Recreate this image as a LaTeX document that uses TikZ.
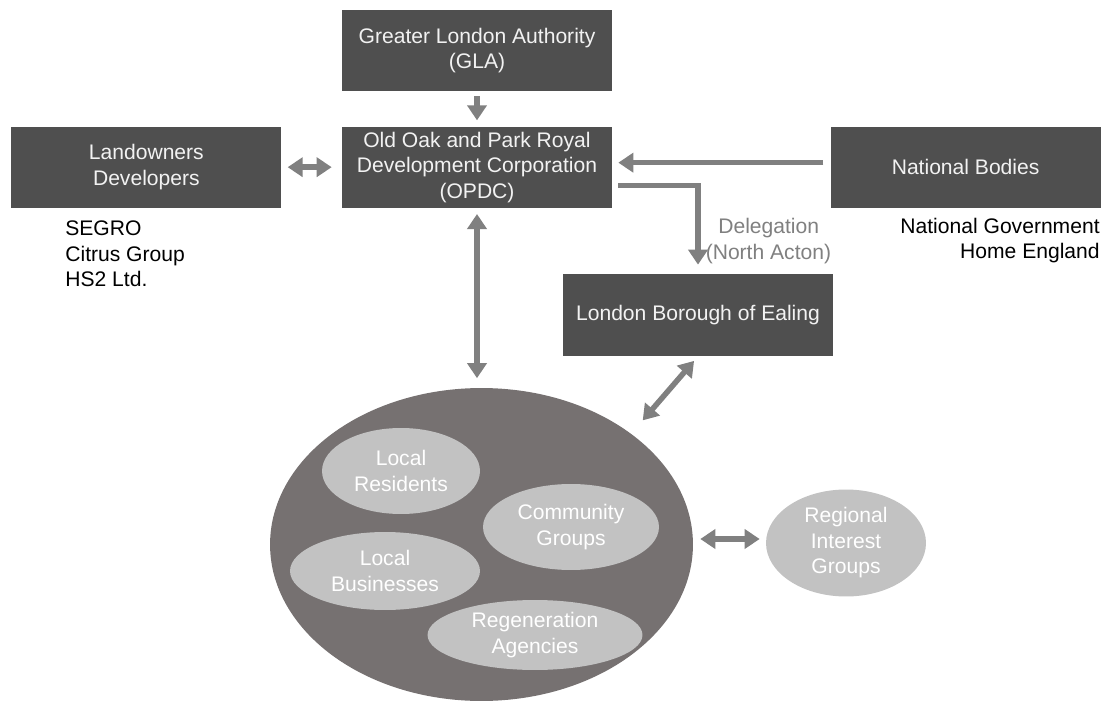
\documentclass[tikz,border=0pt]{standalone}
\usepackage{fontspec}
\setmainfont{Liberation Sans}
\usepackage{xcolor}
\usetikzlibrary{shapes.geometric, arrows.meta, positioning, calc}

\definecolor{bodygray}{HTML}{4F4F4F}
\definecolor{bodytext}{HTML}{F2F2F2}
\definecolor{arrowgray}{HTML}{808080}
\definecolor{localgray}{HTML}{767171}
\definecolor{groupgray}{HTML}{C2C2C2}
\newcommand{\diagfont}{\fontsize{12}{14.5}\selectfont}

\begin{document}
\begin{tikzpicture}[
    x=0.02cm, y=-0.02cm,
    font=\diagfont,
    body/.style={rectangle, fill=bodygray, text=bodytext, minimum width=5.4cm, minimum height=1.62cm, inner sep=2pt, align=center},
    group/.style={ellipse, fill=groupgray, text=white, inner sep=0pt, align=center},
    arrow/.style={-{Triangle[length=0.3cm, width=0.38cm]}, line width=0.11cm, draw=arrowgray},
    darrow/.style={{Triangle[length=0.3cm, width=0.38cm]}-{Triangle[length=0.3cm, width=0.38cm]}, line width=0.11cm, draw=arrowgray},
    members/.style={text=black, inner sep=0pt},
    lbl/.style={text=arrowgray, inner sep=0pt, align=right}
]
\useasboundingbox (0,0) rectangle (1112,702);

% Row 1: authorities and partners
\node[body] (gla) at (477,50.5) {Greater London Authority\\(GLA)};
\node[body, below=0.7cm of gla] (opdc) {Old Oak and Park Royal\\Development Corporation\\(OPDC)};
\node[body, left=1.2cm of opdc] (land) {Landowners\\Developers};
\node[body, right=4.36cm of opdc] (natb) {National Bodies};
\node[body, minimum height=1.64cm] (ealing) at (698,315) {London Borough of Ealing};

% Member lists under the boxes
\node[members, anchor=north west, align=left] (landlist) at (65,220.5) {SEGRO\\Citrus Group\\HS2 Ltd.};
\node[members, anchor=north east, align=right] (natlist) at (1100,217.5) {National Government\\Home England};

% Row 2: local stakeholders
\node[group, fill=localgray, minimum width=8.46cm, minimum height=6.26cm] (local) at (481.5,544.5) {};
\node[group, minimum width=3.16cm, minimum height=1.72cm] (res) at (401,471) {Local\\Residents};
\node[group, minimum width=3.52cm, minimum height=1.72cm] (comm) at (571,527) {Community\\Groups};
\node[group, minimum width=3.8cm, minimum height=1.56cm] (bus) at (385,571) {Local\\Businesses};
\node[group, minimum width=4.3cm, minimum height=1.4cm] (regen) at (535,635) {Regeneration\\Agencies};
\node[group, minimum width=3.2cm, minimum height=2.14cm] (regional) at (846,543) {Regional\\Interest\\Groups};

% Governance arrows
\draw[arrow, shorten <=0.1cm, shorten >=0.12cm] (gla) -- (opdc);
\draw[darrow, shorten <=0.12cm, shorten >=0.2cm] (land) -- (opdc);
\draw[arrow, shorten <=0.14cm, shorten >=0.12cm] ($(natb.west)+(0,-4.5)$) -- ($(opdc.east)+(0,-4.5)$);
\draw[arrow, shorten >=0.18cm] ($(opdc.east)+(6,18.5)$) -| node[lbl, pos=0.815, anchor=west, xshift=0.1cm] {Delegation\kern0.24cm\\(North Acton)} (ealing.north);

% Links to the local stakeholders
\draw[darrow, shorten <=0.12cm, shorten >=0.19cm] (opdc.south) -- (local.north -| opdc.south);
\draw[darrow, shorten <=0.12cm, shorten >=0.35cm] (ealing.south) -- (local.north east);
\draw[darrow, shorten <=0.14cm, shorten >=0.12cm] ($(local.east)+(0,-5.5)$) -- ($(regional.west)+(0,-4)$);

\end{tikzpicture}
\end{document}
